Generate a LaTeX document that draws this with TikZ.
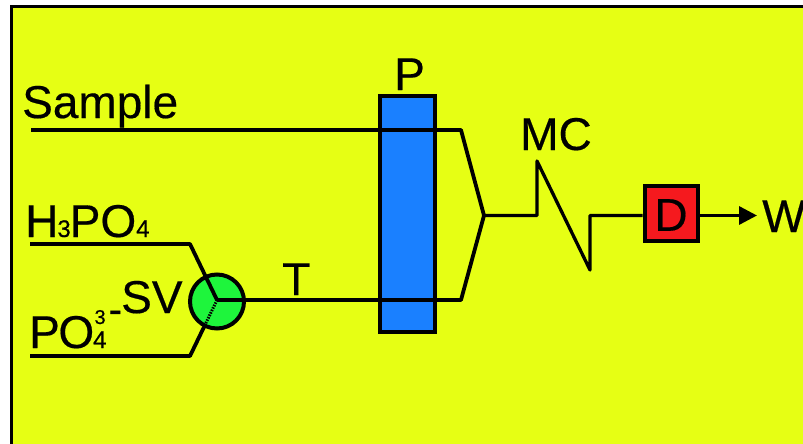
\documentclass[tikz,border=0pt]{standalone}
\usepackage{fontspec}
\setmainfont[FakeBold=0.4]{Liberation Sans}
\usetikzlibrary{arrows.meta}
\definecolor{panelyellow}{HTML}{E6FF14}
\definecolor{columnblue}{HTML}{1A80FF}
\definecolor{valvegreen}{HTML}{1EF53C}
\definecolor{detectred}{HTML}{F5191E}
\newcommand{\smallidx}[1]{{\fontsize{24}{24}\selectfont #1}}
\tikzset{
    label/.style={inner sep=0pt,anchor=base west,font=\fontsize{46}{46}\selectfont},
    pipe/.style={line width=3.8pt,line join=round},
    thinpipe/.style={line width=3.3pt,line join=round},
}
\begin{document}
\begin{tikzpicture}[x=1pt,y=-1pt]
    \useasboundingbox (0,0) rectangle (803,444);
    \clip (0,0) rectangle (803,444);
    \draw[line width=3pt,fill=panelyellow] (11.5,6.5) rectangle (830,470);

    % inlets and junctions
    \coordinate (samplein) at (31,130);
    \coordinate (sampleout) at (461,130);
    \coordinate (acidin) at (30,244);
    \coordinate (acidbend) at (190,244);
    \coordinate (saltin) at (30,356);
    \coordinate (saltbend) at (190,356);
    \coordinate (transferout) at (461,300);
    \coordinate (merge) at (484,215.5);
    \coordinate (coilin) at (537,215.5);
    \coordinate (coiltop) at (537,161);
    \coordinate (coilbot) at (590,270);
    \coordinate (coilout) at (590,215.5);
    \coordinate (waste) at (757,215.5);

    \node[draw,line width=4pt,fill=columnblue,minimum width=55pt,minimum height=236pt,inner sep=0pt] (column) at (407.5,214) {};
    \node[circle,draw,line width=4pt,fill=valvegreen,minimum size=54pt,inner sep=0pt] (valve) at (217,301.5) {};
    \coordinate (valvemid) at (217,300);
    \coordinate (valvelow) at (204,327);
    \node[draw,line width=4pt,fill=detectred,minimum width=53pt,minimum height=55pt,inner sep=0pt] (detector) at (671,213) {};

    \draw[pipe] (samplein) -- (sampleout) -- (merge) -- (transferout) -- (valvemid);
    \draw[pipe] (acidin) -- (acidbend) -- (valvemid);
    \draw[pipe] (saltin) -- (saltbend) -- (valvelow);
    \draw[line width=3pt,dash pattern=on 1.5pt off 1.2pt] (valvemid) -- (valvelow);
    \draw[thinpipe] (merge) -- (coilin) -- (coiltop) -- (coilbot) -- (coilout) -- (coilout -| detector.west);
    \draw[thinpipe,-{Triangle[length=18pt,width=18pt]}] (coilout -| detector.east) -- (waste);

    \node[label] (samplelabel) at (22,118) {Sample};
    \node[label] (acidlabel) at (25,237) {H\kern-1pt\smallidx{3}\kern-1ptPO\smallidx{4}};
    \node[label] (saltlabel) at (29,348) {P\kern-1.5ptO\kern-1pt\smallidx{4}\kern-12pt\raisebox{24pt}{\fontsize{20}{20}\selectfont 3}\kern3pt\raisebox{25pt}{\fontsize{40}{40}\selectfont -}};
    \node[label] (valvelabel) at (121,313) {SV};
    \node[label] (tubelabel) at (282,295) {T};
    \node[label] (columnlabel) at (394,90) {P};
    \node[label] (coillabel) at (520,150) {MC};
    \node[label,anchor=center] (detectorlabel) at (671,215) {D};
    \node[label] (wastelabel) at (762,232) {W};
\end{tikzpicture}
\end{document}
